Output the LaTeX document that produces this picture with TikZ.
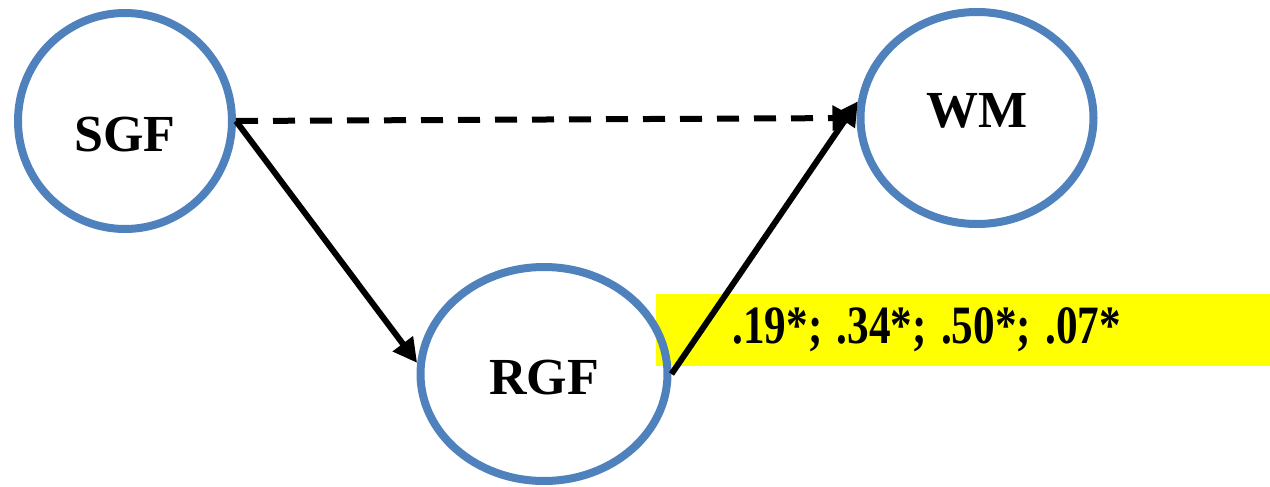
\documentclass[tikz,border=0pt]{standalone}
\usepackage{fontspec}
\setmainfont{Liberation Serif}
\usepackage{xcolor}
\usepackage{graphicx}
\usetikzlibrary{arrows.meta,positioning,shapes.geometric}
\definecolor{varblue}{HTML}{4F81BD}
\definecolor{coefyellow}{HTML}{FFFF00}

\begin{document}
\begin{tikzpicture}[
    x=0.5pt, y=-0.5pt,
    var/.style={draw=varblue, ellipse, line width=4pt, inner sep=0pt, font=\fontsize{26}{30}\selectfont\bfseries},
    arr/.style={-{Triangle[length=12pt, width=12pt]}, line width=3pt},
    coef/.style={fill=coefyellow, anchor=west, minimum height=36pt, inner xsep=38pt, text width=231pt, align=left, font=\fontsize{27}{30}\selectfont\bfseries\frenchspacing}
]
\useasboundingbox (0,0) rectangle (1270,487);
\node[coef] (est) at (656,330) {\scalebox{0.8}[1]{.19*; .34*; .50*; .07*}};
\node[var, minimum width=107pt, minimum height=108pt, text height=31pt] (sgf) at (125,121) {SGF};
\node[var, minimum width=116.5pt, minimum height=106pt, text depth=8pt] (wm) at (977,118) {WM};
\node[var, minimum width=123.5pt, minimum height=107pt, text height=21pt] (rgf) at (544,374) {RGF};

\draw[arr, dash pattern=on 11pt off 7.5pt] (sgf.east) -- (wm.west);
\draw[arr] (sgf.east) -- (rgf.175);
\draw[arr] (rgf.east) -- (wm.172);
\end{tikzpicture}
\end{document}
